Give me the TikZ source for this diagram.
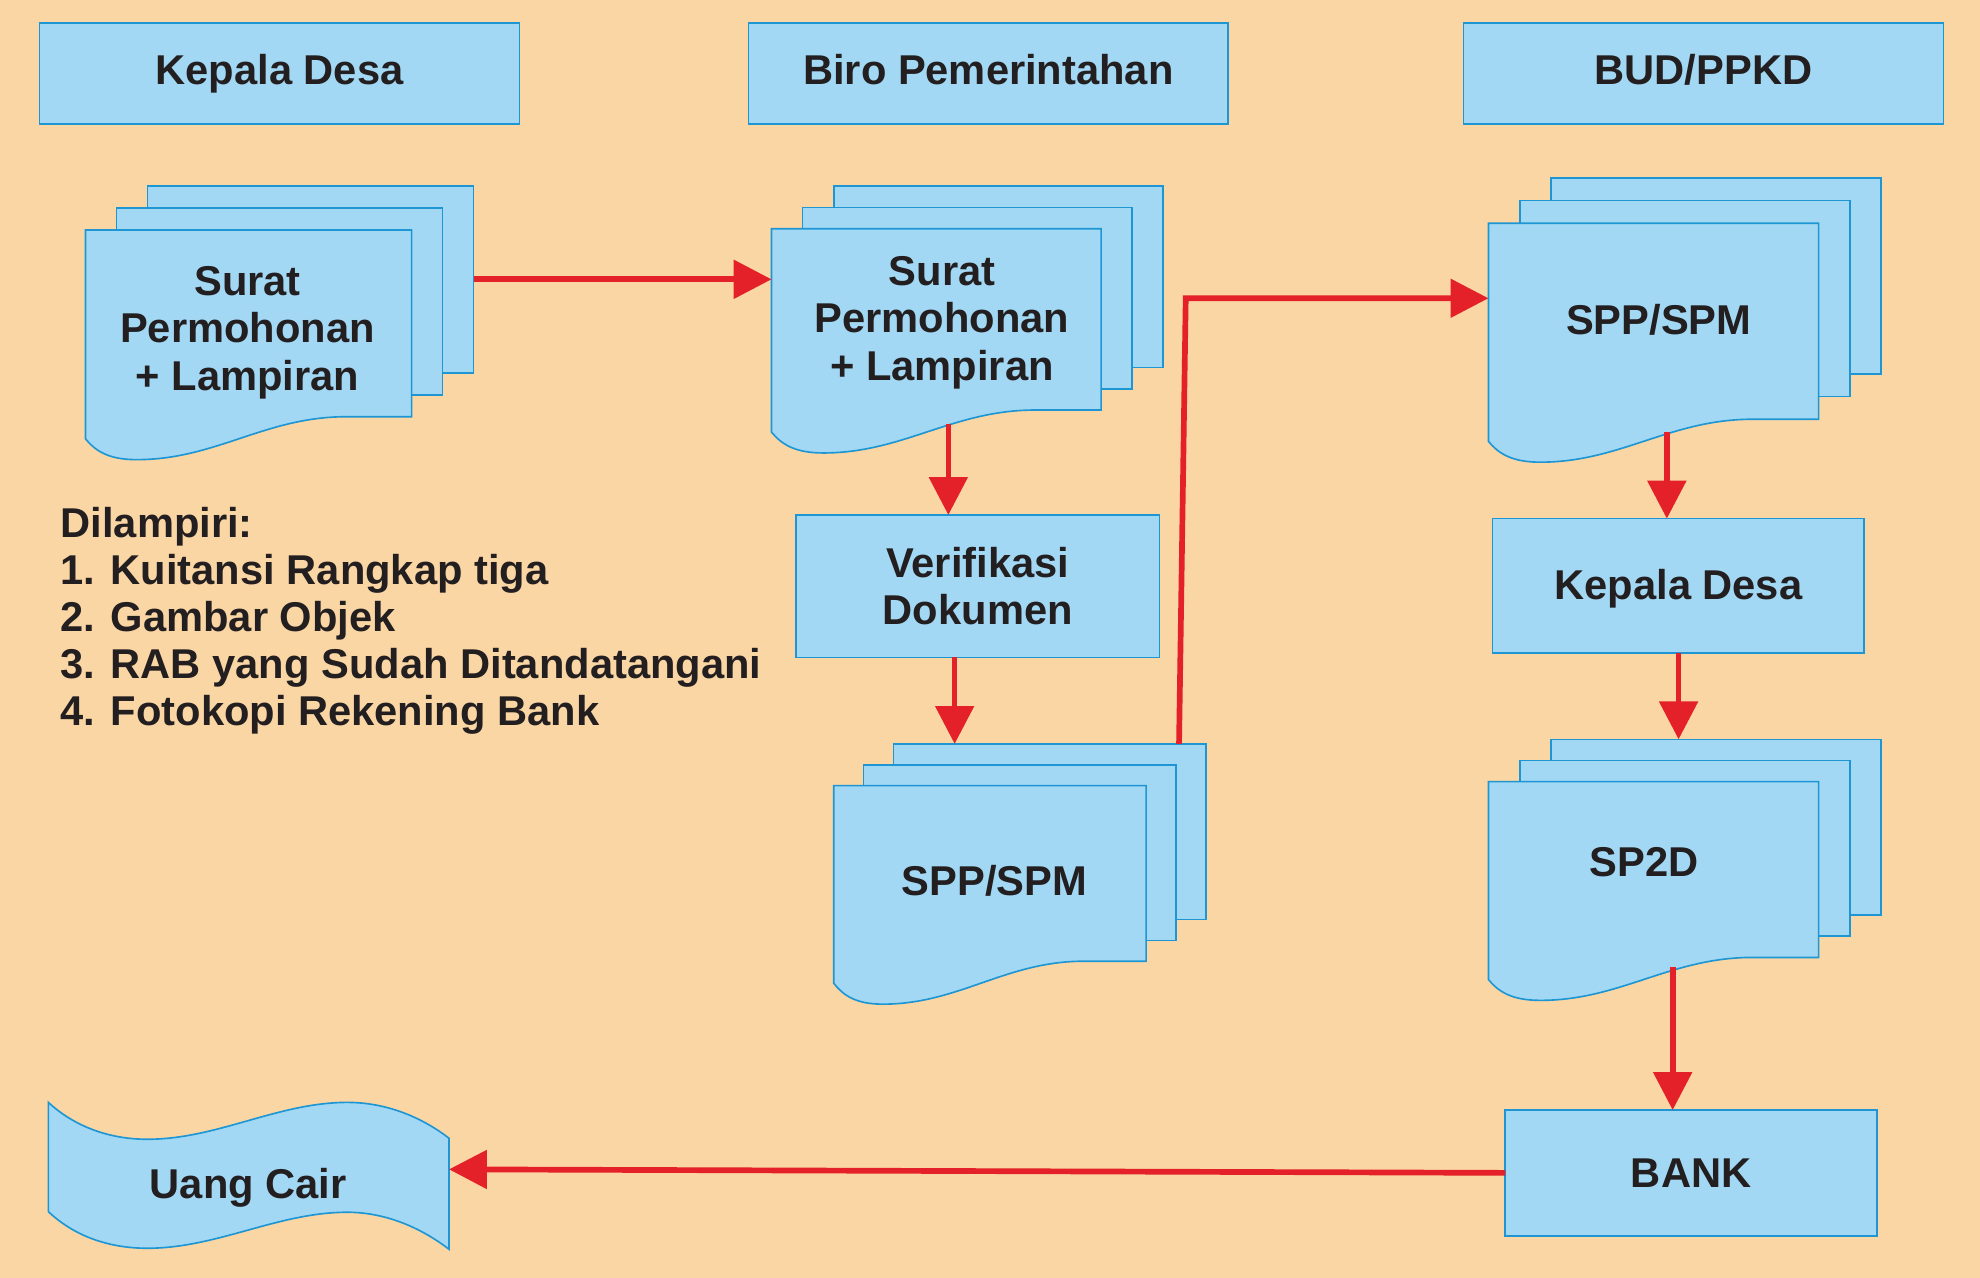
\documentclass[tikz,border=0pt]{standalone}
\usepackage{fontspec}
\setmainfont{Liberation Sans}
\usetikzlibrary{arrows.meta}
\definecolor{bgpeach}{RGB}{250,214,165}
\definecolor{boxfill}{RGB}{162,216,244}
\definecolor{boxline}{RGB}{30,150,212}
\definecolor{flowred}{RGB}{228,32,40}
\definecolor{inkdark}{RGB}{35,31,32}
\newcommand\lbl{\fontsize{33}{37.5}\selectfont\bfseries}
\newcommand\lbllist{\fontsize{33}{37.2}\selectfont\bfseries}
\tikzset{
  sheet/.style={draw=boxline, fill=boxfill, line width=1.3pt, inner sep=0pt, outer sep=0pt},
  rectbox/.style={sheet, text=inkdark, font=\lbl, align=center},
  box/.style={rectbox, text height=24pt, text depth=7pt},
  lbl/.style={text=inkdark, font=\lbl, inner sep=0pt, outer sep=0pt, align=center},
  conn/.style={draw=flowred, line width=4.5pt, -{Triangle[length=30pt,width=30pt]}},
  bound/.style={inner sep=0pt, outer sep=0pt, anchor=north west},
}
% #1 name, #2 x, #3 y (front top-left), #4 width, #5 height, #6 dx, #7 dy
\newcommand\docstack[7]{%
  \node[sheet, bound, minimum width=#4pt, minimum height=#5pt] (#1-back) at ({#2+2*#6},{#3-2*#7}) {};
  \node[sheet, bound, minimum width=#4pt, minimum height=#5pt] (#1-mid) at ({#2+#6},{#3-#7}) {};
  \path[sheet] (#2,#3) -- ({#2+#4},#3) -- ({#2+#4},{#3+#5}) -- ({#2+0.8*#4},{#3+#5})
    .. controls ({#2+0.55*#4},{#3+#5}) and ({#2+0.4*#4},{#3+#5+34}) .. ({#2+0.157*#4},{#3+#5+34})
    .. controls ({#2+0.07*#4},{#3+#5+34}) and ({#2+0.03*#4},{#3+#5+27}) .. (#2,{#3+#5+17.5}) -- cycle;
  \node[bound, minimum width=#4pt, minimum height={(#5+34)*1pt}] (#1) at (#2,#3) {};
}
\begin{document}
\begin{tikzpicture}[x=1pt,y=-1pt]
\useasboundingbox (0,0) rectangle (1568,1012);
\fill[bgpeach] (0,0) rectangle (1568,1012);

% headers
\node[box, minimum width=380pt, minimum height=80pt] (hkd) at (221.4,58.4) {Kepala Desa};
\node[box, minimum width=380pt, minimum height=80pt] (hbiro) at (782.7,58.4) {Biro Pemerintahan};
\node[box, minimum width=380pt, minimum height=80pt] (hbud) at (1349,58.4) {BUD/PPKD};

% document stacks
\docstack{d1}{67.7}{182.1}{258.3}{147.9}{24.5}{17.4}
\docstack{d2}{611}{181.1}{261}{143.6}{24.6}{16.9}
\docstack{d3}{1178.7}{176.8}{261.5}{155.2}{24.75}{17.9}
\docstack{d4}{660.3}{622.1}{247.3}{139.1}{23.65}{16.5}
\docstack{d5}{1178.7}{619}{261.5}{139.2}{24.75}{16.75}

\node[lbl] (t1) at (196,263.3) {Surat\\Permohonan\\+ Lampiran};
\node[lbl] (t2) at (746,255.6) {Surat\\Permohonan\\+ Lampiran};
\node[lbl, anchor=base] (t3) at (1313.6,265.2) {SPP/SPM};
\node[lbl, anchor=base] (t4) at (787.6,709.1) {SPP/SPM};
\node[lbl, anchor=base] (t5) at (1302,694.3) {SP2D};

% boxes
\node[rectbox, minimum width=288pt, minimum height=112.8pt] (verif) at (774.3,464.2) {Verifikasi\\Dokumen};
\node[box, text height=24pt, text depth=2pt, minimum width=294.3pt, minimum height=106.2pt] (kd2) at (1329.2,463.8) {Kepala Desa};
\node[box, text height=23.6pt, text depth=0pt, minimum width=294.3pt, minimum height=99.5pt] (bank) at (1339.2,928.8) {BANK};

% Uang Cair tape
\path[sheet] (38.3,873) .. controls (60,893) and (88,902.2) .. (116.7,902.2)
  .. controls (172,902.2) and (220,873) .. (275,873)
  .. controls (305,873) and (333,884) .. (355.6,901.4)
  -- (355.6,989.3)
  .. controls (333,972) and (305,960) .. (275,960)
  .. controls (220,960) and (172,988.5) .. (116.7,988.5)
  .. controls (88,988.5) and (60,980) .. (38.3,959.5) -- cycle;
\node[bound, minimum width=317.3pt, minimum height=116.3pt] (uang) at (38.3,873) {};
\node[lbl, anchor=base] (uangtxt) at (196.6,948.8) {Uang Cair};

% list
\node[lbl, font=\lbllist, align=left, anchor=west] (lampiran) at (48,491.5)
  {Dilampiri:\\1. Kuitansi Rangkap tiga\\2. Gambar Objek\\3. RAB yang Sudah Ditandatangani\\4. Fotokopi Rekening Bank};

% connectors
\coordinate (c1) at (375,221.2);
\draw[conn] (c1) -- (c1 -| d2.west);
\coordinate (c2) at (751,336);
\draw[conn] (c2) -- (c2 |- verif.north);
\coordinate (c3) at (756,520.6);
\draw[conn] (c3) -- (c3 |- d4-back.north);
\coordinate (c4) at (933.7,589.1);
\coordinate (c4b) at (939,236.2);
\draw[conn] (c4) -- (c4b) -- (c4b -| d3.west);
\coordinate (c5) at (1320,342);
\draw[conn] (c5) -- (c5 |- kd2.north);
\coordinate (c6) at (1329.3,516.9);
\draw[conn] (c6) -- (c6 |- d5-back.north);
\coordinate (c7) at (1324.6,766);
\draw[conn] (c7) -- (c7 |- bank.north);
\coordinate (c8) at (355.6,926);
\draw[conn] (bank.west) -- (c8);
\end{tikzpicture}
\end{document}
